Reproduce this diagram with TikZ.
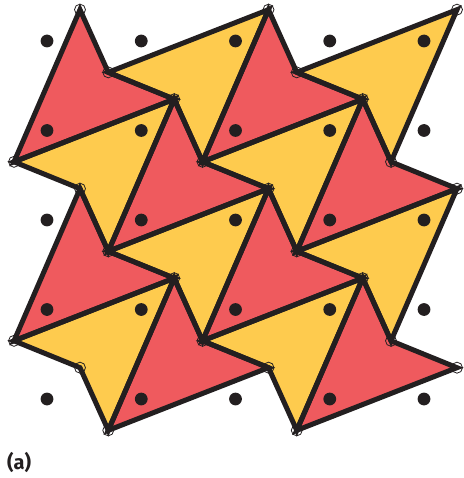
\documentclass[tikz,border=0pt]{standalone}
\usepackage{fontspec}
\newfontfamily\labfont{Fira Sans}
\definecolor{tred}{HTML}{EF5A5E}
\definecolor{tyel}{HTML}{FECB4E}
\definecolor{tink}{HTML}{231F20}
\tikzset{
  edgeline/.style={draw=tink, line width=5pt, line join=miter},
  latdot/.style={fill=tink},
  vertring/.style={draw=tink, line width=0.8pt},
}
\begin{document}
\begin{tikzpicture}[x=1pt,y=-1pt]
\useasboundingbox (0,0) rectangle (463,478);
\begin{scope}[shift={(47,41)}, x=94.25pt, y=-89.5pt]
  % fills
  \foreach \a/\b in {0/0,2/0,1/1,3/1,0/2,2/2,1/3,3/3}{
    \fill[tred, shift={(\a,\b)}] (0.35,-0.35) -- (0.65,0.35) -- (1.35,0.65) -- (-0.35,1.35) -- cycle;
  }
  \foreach \a/\b in {0/0,2/0,-1/1,1/1,0/2,2/2,-1/3,1/3}{
    \fill[tyel, shift={(\a,\b)}] (0.65,0.35) -- (2.35,-0.35) -- (1.65,1.35) -- (1.35,0.65) -- cycle;
  }
  % outlines
  \foreach \a/\b in {0/0,2/0,1/1,3/1,0/2,2/2,1/3,3/3}{
    \draw[edgeline, shift={(\a,\b)}] (0.35,-0.35) -- (0.65,0.35) -- (1.35,0.65) -- (-0.35,1.35) -- cycle;
  }
  \foreach \a/\b in {0/0,2/0,-1/1,1/1,0/2,2/2,-1/3,1/3}{
    \draw[edgeline, shift={(\a,\b)}] (0.65,0.35) -- (2.35,-0.35) -- (1.65,1.35) -- (1.35,0.65) -- cycle;
  }
  % lattice dots
  \foreach \i in {0,...,4}{
    \foreach \j in {0,...,4}{
      \fill[latdot] (\i,\j) circle[radius=6.4pt];
    }
  }
  % vertex rings
  \foreach \p in {(0.35,-0.35),(2.35,-0.35),(4.35,-0.35),
    (0.65,0.35),(2.65,0.35),(1.35,0.65),(3.35,0.65),
    (-0.35,1.35),(1.65,1.35),(3.65,1.35),
    (0.35,1.65),(2.35,1.65),(4.35,1.65),
    (0.65,2.35),(2.65,2.35),(1.35,2.65),(3.35,2.65),
    (-0.35,3.35),(1.65,3.35),(3.65,3.35),
    (0.35,3.65),(2.35,3.65),(4.35,3.65),
    (0.65,4.35),(2.65,4.35)}{
    \draw[vertring] \p circle[radius=5.5pt];
  }
\end{scope}
\node[anchor=base west, inner sep=0pt, font=\labfont\bfseries\fontsize{20}{24}\selectfont, text=tink] (lab) at (7,469) {(a)};
\end{tikzpicture}
\end{document}
